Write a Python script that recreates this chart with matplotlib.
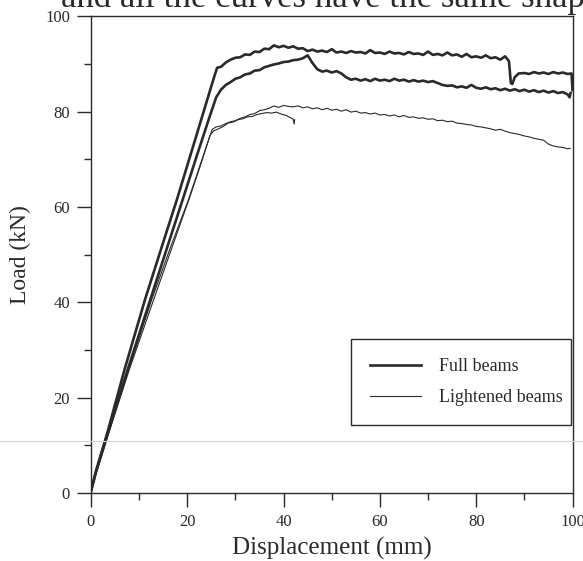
import matplotlib.pyplot as plt
from matplotlib.lines import Line2D
import numpy as np

# full beam 1 (upper thick curve)
full1_x = [0, 1, 3.5, 7, 11.2, 14.5, 17.8, 21, 24, 25.5, 26.2, 27, 28, 29, 30, 31, 32, 33, 34, 35,
           36, 37, 38, 39, 40, 41, 42, 43, 44, 45, 46, 47, 48, 49, 50, 51, 52, 53, 54, 55,
           56, 57, 58, 59, 60, 61, 62, 63, 64, 65, 66, 67, 68, 69, 70, 71, 72, 73, 74, 75,
           76, 77, 78, 79, 80, 81, 82, 83, 84, 85, 86, 86.8, 87.2, 87.5, 88, 88.8, 90, 91, 92, 93,
           94, 95, 96, 97, 98, 99, 99.8, 100]
full1_y = [0.5, 4.5, 13, 26, 40.5, 51, 61.4, 72, 82, 87, 89.2, 89.4, 90.3, 90.9, 91.3, 91.4, 92.0, 91.9, 92.6, 92.5,
           93.2, 93.1, 93.9, 93.5, 93.8, 93.4, 93.7, 93.2, 93.3, 92.7, 93.0, 92.6, 92.8, 92.5, 93.1, 92.4, 92.6, 92.3, 92.7, 92.4,
           92.5, 92.2, 92.9, 92.3, 92.4, 92.1, 92.6, 92.2, 92.3, 92.0, 92.5, 92.1, 92.2, 91.9, 92.6, 91.9, 92.1, 91.8, 92.4, 91.8,
           92.0, 91.5, 92.1, 91.4, 91.6, 91.3, 91.8, 91.2, 91.4, 90.9, 91.6, 90.6, 86.0, 85.8, 87.2, 88.0, 88.1, 87.9, 88.3, 88.0,
           88.2, 87.9, 88.3, 88.0, 88.2, 87.9, 88.0, 84.5]

# full beam 2 (lower thick curve)
full2_x = [0, 1, 3.5, 7.5, 12.3, 15.5, 19, 22, 24.5, 26, 27, 28, 29, 30, 31, 32, 33, 34, 35, 36,
           37, 38, 39, 40, 41, 42, 43, 44, 45, 45.5, 46, 47, 48, 49, 50, 51, 52, 53, 54, 55,
           56, 57, 58, 59, 60, 61, 62, 63, 64, 65, 66, 67, 68, 69, 70, 71, 72, 73, 74, 75,
           76, 77, 78, 79, 80, 81, 82, 83, 84, 85, 86, 87, 88, 89, 90, 91, 92, 93, 94, 95,
           96, 97, 98, 99, 99.4, 99.6]
full2_y = [0.3, 4.2, 12.5, 25.5, 40.5, 50.5, 61.4, 70.8, 78.5, 83, 84.6, 85.6, 86.2, 86.9, 87.2, 87.8, 88.0, 88.6, 88.7, 89.3,
           89.6, 89.9, 90.1, 90.4, 90.5, 90.8, 90.9, 91.2, 91.8, 91.0, 90.2, 88.9, 88.4, 88.6, 88.2, 88.5, 88.0, 87.2, 86.7, 86.9,
           86.5, 86.8, 86.4, 86.9, 86.5, 86.7, 86.4, 86.9, 86.5, 86.7, 86.3, 86.6, 86.3, 86.5, 86.2, 86.4, 86.0, 85.6, 85.4, 85.5,
           85.1, 85.3, 85.0, 85.6, 85.0, 84.8, 85.1, 84.7, 84.9, 84.5, 84.8, 84.4, 84.7, 84.3, 84.6, 84.2, 84.5, 84.1, 84.4, 84.0,
           84.3, 83.9, 84.1, 83.6, 83.0, 83.9]

# lightened beam 1 (long thin curve)
light1_x = [0, 1, 3.5, 8, 12.6, 16.5, 20.2, 23, 25.2, 26, 27, 28, 29, 30, 31, 32, 33, 34, 35, 36,
            37, 38, 39, 40, 41, 42, 43, 44, 45, 46, 47, 48, 49, 50, 51, 52, 53, 54, 55, 56,
            57, 58, 59, 60, 61, 62, 63, 64, 65, 66, 67, 68, 69, 70, 71, 72, 73, 74, 75, 76,
            77, 78, 79, 80, 81, 82, 83, 84, 85, 86, 87, 88, 89, 90, 91, 92, 93, 94, 95, 96,
            97, 98, 99, 99.5]
light1_y = [0.4, 4.3, 12.2, 26.5, 40.5, 51.5, 61.4, 69.8, 76.3, 76.8, 77.0, 77.5, 77.9, 78.1, 78.6, 78.9, 79.4, 79.6, 80.2, 80.4,
            80.7, 81.2, 80.9, 81.3, 81.1, 81.0, 81.2, 80.8, 81.0, 80.6, 80.8, 80.4, 80.7, 80.3, 80.5, 80.1, 80.4, 79.9, 80.1, 79.7,
            79.8, 79.5, 79.7, 79.3, 79.4, 79.1, 79.3, 78.9, 79.2, 78.8, 78.9, 78.6, 78.7, 78.4, 78.5, 78.1, 78.2, 77.9, 78.0, 77.6,
            77.5, 77.3, 77.2, 76.9, 76.8, 76.6, 76.4, 76.1, 76.3, 75.9, 75.6, 75.4, 75.2, 74.9, 74.7, 74.4, 74.2, 74.0, 73.2, 72.8,
            72.6, 72.5, 72.2, 72.3]

# lightened beam 2 (short thin curve)
light2_x = [0, 1, 3.5, 8, 13, 17, 20.5, 23, 24.7, 25.5, 26.5, 27.5, 28.5, 29.5, 30.5, 31.5, 32.5, 33.5, 34.5, 35.5,
            36.5, 37.5, 38.5, 39.5, 40.5, 41.5, 42.0, 42.2, 42.3]
light2_y = [0.2, 4.0, 12.0, 26, 40.5, 52, 62, 69.5, 75.0, 76.0, 76.4, 76.9, 77.6, 77.8, 78.3, 78.5, 78.9, 79.0, 79.4, 79.6,
            79.8, 79.7, 79.9, 79.5, 79.2, 78.7, 78.4, 77.4, 78.3]

plt.rcParams['font.family'] = 'Liberation Serif'
plt.rcParams['axes.linewidth'] = 1.0
ink = '#2a2a2a'

fig = plt.figure(figsize=(5.83, 5.61), dpi=100)
ax = fig.add_axes([0.156, 0.121, 0.826, 0.850])

ax.plot(full1_x, full1_y, color=ink, lw=1.9)
ax.plot(full2_x, full2_y, color=ink, lw=1.9)
ax.plot(light1_x, light1_y, color=ink, lw=0.8)
ax.plot(light2_x, light2_y, color=ink, lw=0.8)

ax.set_xlim(0, 100)
ax.set_ylim(0, 100)
ax.set_xticks(np.arange(0, 101, 20))
ax.set_yticks(np.arange(0, 101, 20))
ax.set_xticks(np.arange(10, 100, 20), minor=True)
ax.set_yticks(np.arange(10, 100, 20), minor=True)
ax.tick_params(which='major', direction='out', length=10, width=1, labelsize=12, colors=ink)
ax.tick_params(which='minor', direction='out', length=5, width=1, colors=ink)
ax.tick_params(axis='x', which='major', pad=5)
ax.tick_params(axis='y', which='major', pad=5)
for s in ax.spines.values():
    s.set_color(ink)

ax.set_xlabel('Displacement (mm)', fontsize=18, color=ink, labelpad=5)
ax.set_ylabel('Load (kN)', fontsize=17, color=ink, labelpad=10)

handles = [Line2D([], [], color=ink, lw=1.9), Line2D([], [], color=ink, lw=0.8)]
leg = ax.legend(handles, ['Full beams', 'Lightened beams'], loc='lower left',
                bbox_to_anchor=(0.541, 0.143, 0.455, 0.18), mode='expand', borderaxespad=0,
                fontsize=13, fancybox=False, handlelength=2.8, handletextpad=1.0,
                labelspacing=0.75, borderpad=1.05, framealpha=1)
leg.get_frame().set_edgecolor(ink)
leg.get_frame().set_linewidth(1.0)
for t in leg.get_texts():
    t.set_color(ink)

# caption text of the page, cut at the top edge
fig.text(1.03, 0.988, 'and all the curves have the same shape', ha='right', va='baseline',
         fontsize=25, color=ink)
# faint scan line
fig.add_artist(Line2D([0, 1], [0.214, 0.214], transform=fig.transFigure, color='#d4d4d4', lw=0.8))

fig.savefig('out.png', dpi=100)
